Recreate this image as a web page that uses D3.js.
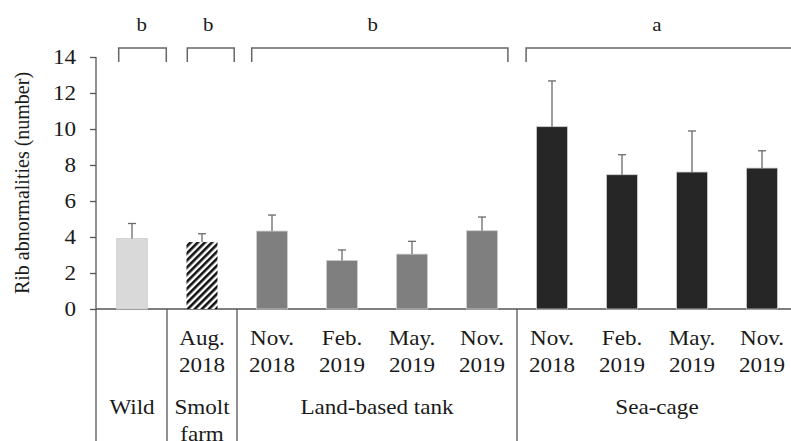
<!DOCTYPE html>
<html><head><meta charset="utf-8">
<script src="https://cdn.jsdelivr.net/npm/d3@7"></script>
<style>body{margin:0;background:#fff}svg text{font-family:"Liberation Serif","Times New Roman",serif;fill:#1a1a1a}</style>
</head><body><svg id="c" width="791" height="441"></svg>
<script>
// ---- data ----
const dateLine1 = ["", "Aug.", "Nov.", "Feb.", "May.", "Nov.", "Nov.", "Feb.", "May.", "Nov."];
const dateLine2 = ["", "2018", "2018", "2019", "2019", "2019", "2018", "2019", "2019", "2019"];
const means     = [3.92, 3.72, 4.33, 2.70, 3.05, 4.35, 10.13, 7.46, 7.61, 7.83];
const errTop    = [4.75, 4.18, 5.22, 3.28, 3.76, 5.11, 12.67, 8.57, 9.89, 8.79];
const barKind   = ["wild", "smolt", "land", "land", "land", "land", "sea", "sea", "sea", "sea"];
const yTicks    = [0, 2, 4, 6, 8, 10, 12, 14];
const groupNames = [["Wild"], ["Smolt", "farm"], ["Land-based tank"], ["Sea-cage"]];
const groupStart = [0, 1, 2, 6];
const groupEnd   = [0, 1, 5, 9];
const letters    = ["b", "b", "b", "a"];
const bracketFrom = [-0.19, 0.79, 1.71, 5.63];
const bracketTo   = [0.49, 1.46, 5.37, 9.7];
const letterAt    = [0.14, 1.09, 3.44, 7.5];
const yLabel = "Rib abnormalities (number)";

// ---- layout ----
const W = 791, H = 441;
const axisX = 96, y0 = 309, yTop = 57;
const sx = 1.1; // horizontal text stretch seen in the reference
const fs = 21;
const colors = {wild: "#d9d9d9", land: "#7f7f7f", sea: "#262626"};

const svg = d3.select("#c");
const defs = svg.append("defs");
const pat = defs.append("pattern").attr("id", "hatch")
  .attr("patternUnits", "userSpaceOnUse").attr("width", 5).attr("height", 5)
  .attr("patternTransform", "rotate(45)");
pat.append("rect").attr("width", 5).attr("height", 5).attr("fill", "#fff");
pat.append("rect").attr("width", 2.6).attr("height", 5).attr("fill", "#111");

const idx = d3.range(means.length);
const x = d3.scaleBand().domain(idx).range([97, 797]).paddingInner(0.557).paddingOuter(0.2785);
const y = d3.scaleLinear().domain([0, 14]).range([y0, yTop]);
const cx = i => x(i) + x.bandwidth() / 2;
const xi = d3.scaleLinear().domain([0, 9]).range([cx(0), cx(9)]);

function htext(g, tx, ty, str, anchor) {
  return g.append("text").attr("transform", `translate(${tx},${ty}) scale(${sx},1)`)
    .attr("text-anchor", anchor || "middle").attr("font-size", fs).text(str);
}

// y axis
const yAxis = d3.axisLeft(y).tickValues(yTicks).tickSize(6).tickPadding(12).tickFormat(d3.format("d"));
const ga = svg.append("g").attr("transform", `translate(${axisX},0)`).call(yAxis);
ga.select(".domain").remove();
ga.selectAll(".tick line").attr("stroke", "#555").attr("stroke-width", 1.3);
ga.selectAll(".tick text").each(function(d) {
  const yy = y(d);
  d3.select(this).remove();
  htext(ga, -20, yy + 7, String(d), "end");
});
svg.append("line").attr("x1", axisX).attr("x2", axisX).attr("y1", yTop).attr("y2", H)
  .attr("stroke", "#555").attr("stroke-width", 1.3);
svg.append("line").attr("x1", axisX).attr("x2", W).attr("y1", y0).attr("y2", y0)
  .attr("stroke", "#555").attr("stroke-width", 1.3);

// y label
svg.append("text").attr("transform", `translate(29,${(y0 + yTop) / 2}) rotate(-90) scale(1,${sx})`)
  .attr("text-anchor", "middle").attr("font-size", 20).text(yLabel);

// bars
svg.append("g").selectAll("rect").data(idx).join("rect")
  .attr("x", i => x(i)).attr("width", x.bandwidth())
  .attr("y", i => y(means[i])).attr("height", i => y0 - y(means[i]))
  .attr("fill", i => barKind[i] === "smolt" ? "url(#hatch)" : colors[barKind[i]])
  .attr("stroke", i => barKind[i] === "smolt" ? "none" : "#cfcfcf").attr("stroke-width", 0.8);

// error bars (upper only)
const eg = svg.append("g").attr("stroke", "#6a6a6a").attr("stroke-width", 1.3);
eg.selectAll(".v").data(idx).join("line").attr("class", "v")
  .attr("x1", cx).attr("x2", cx).attr("y1", i => y(means[i])).attr("y2", i => y(errTop[i]));
eg.selectAll(".c").data(idx).join("line").attr("class", "c")
  .attr("x1", i => cx(i) - 4).attr("x2", i => cx(i) + 4).attr("y1", i => y(errTop[i])).attr("y2", i => y(errTop[i]));

// separators between groups
const seps = groupEnd.slice(0, -1).map(e => cx(e) + x.step() / 2);
svg.append("g").selectAll("line").data(seps).join("line")
  .attr("x1", d => d).attr("x2", d => d).attr("y1", y0).attr("y2", H)
  .attr("stroke", "#555").attr("stroke-width", 1.3);

// category labels
const cl = svg.append("g");
idx.forEach(i => {
  if (dateLine1[i]) htext(cl, cx(i), 345, dateLine1[i]);
  if (dateLine2[i]) htext(cl, cx(i), 372, dateLine2[i]);
});
groupNames.forEach((nm, k) => {
  const gx = (cx(groupStart[k]) + cx(groupEnd[k])) / 2;
  nm.forEach((line, j) => htext(cl, gx, 414 + j * 27, line));
});

// significance brackets
const bg = svg.append("g").attr("stroke", "#666").attr("stroke-width", 1.5).attr("fill", "none");
letters.forEach((l, k) => {
  const a = xi(bracketFrom[k]), b = xi(bracketTo[k]);
  bg.append("path").attr("d", `M${a},62V48H${b}V62`);
  htext(svg, xi(letterAt[k]), 31, l).attr("font-size", 19);
});
</script></body></html>
